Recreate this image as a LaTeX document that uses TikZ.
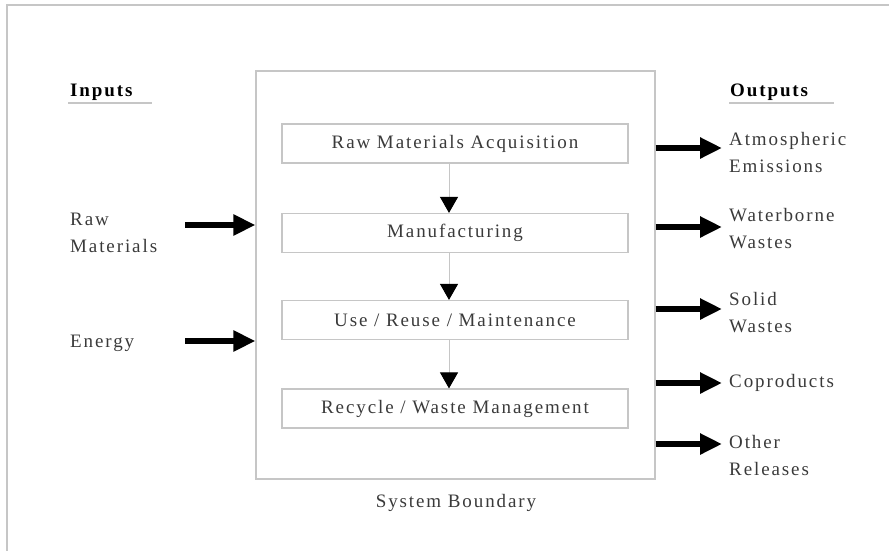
\documentclass[tikz,border=0pt]{standalone}
\usepackage{fontspec}
\setmainfont{Liberation Serif}[LetterSpace=10]
\usetikzlibrary{arrows.meta,positioning}
\definecolor{textgray}{HTML}{3A3A3A}
\definecolor{linegray}{HTML}{C6C6C6}
\tikzset{
  stage/.style={draw=linegray, line width=1.2pt, minimum width=346pt, minimum height=39pt, inner sep=0pt},
  flow/.style={draw=linegray, line width=1pt, -{Triangle[length=16pt,width=18pt,color=black]}},
  bigarrow/.style={line width=6pt, -{Triangle[length=22pt,width=20pt]}},
  lbl/.style={anchor=west, align=left, inner sep=0pt},
  heading/.style={anchor=west, inner sep=0pt, text=black, font=\fontsize{19}{27}\selectfont\bfseries}
}
\begin{document}
\begin{tikzpicture}[x=1pt, y=-1pt, font=\fontsize{19}{27}\selectfont, text=textgray]
\useasboundingbox (0,0) rectangle (889,550);
\draw[linegray, line width=1.5pt] (7,560) -- (7,5) -- (900,5);
% system boundary and stages
\node[draw=linegray, line width=1.2pt, minimum width=399pt, minimum height=408pt, inner sep=0pt] (sb) at (455.5,275) {};
\node[stage] (acq) at (455,143.5) {Raw Materials Acquisition};
\node[stage] (mfg) at (455,233) {Manufacturing};
\node[stage] (use) at (455,320) {Use / Reuse / Maintenance};
\node[stage] (rec) at (455,408.5) {Recycle / Waste Management};
\foreach \a/\b in {acq/mfg, mfg/use, use/rec}
  \draw[flow] ([xshift=-6pt]\a.south) -- ([xshift=-6pt]\b.north);
\node (sblbl) at (456,503) {System Boundary};
% inputs
\node[heading] (inhd) at (70,92) {Inputs};
\draw[linegray, line width=1.2pt] (68,103) -- (152,103);
\node[lbl] (rawlbl) at (70,233) {Raw\\Materials};
\node[lbl] (enlbl) at (70,343) {Energy};
\coordinate (rawin) at (185,225);
\coordinate (enin) at (185,341);
\draw[bigarrow] (rawin) -- (rawin -| sb.west);
\draw[bigarrow] (enin) -- (enin -| sb.west);
% outputs
\node[heading] (outhd) at (730,92) {Outputs};
\draw[linegray, line width=1.2pt] (729,103) -- (834,103);
\foreach \n/\y/\t/\ty in {atm/148/{Atmospheric\\Emissions}/152, wat/227/{Waterborne\\Wastes}/229,
    sol/309/{Solid\\Wastes}/313, cop/383/{Coproducts}/383, oth/444/{Other\\Releases}/455}{
  \coordinate (\n) at (722,\y);
  \draw[bigarrow] (sb.east |- \n) -- (\n);
  \node[lbl] (\n lbl) at (729,\ty) {\t};
}
\end{tikzpicture}
\end{document}
